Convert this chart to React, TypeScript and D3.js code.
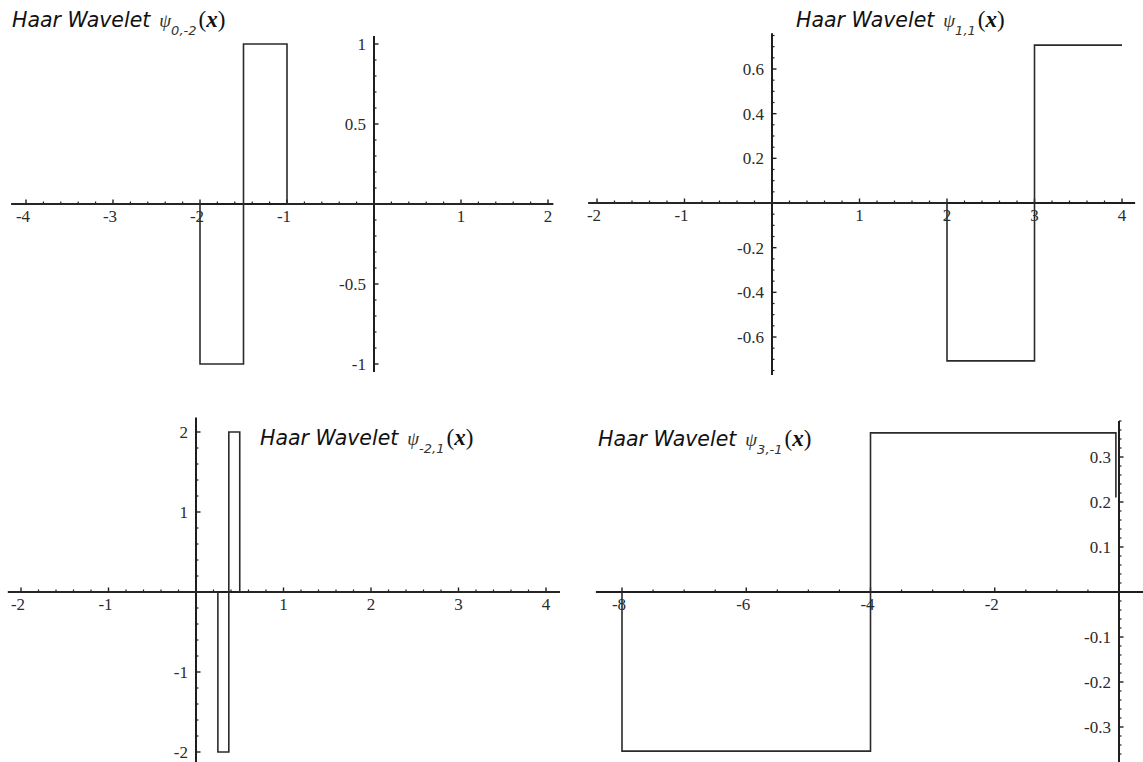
import React from "react";
import * as d3 from "d3";

// Haar wavelet step functions, as polyline vertices [x, ψ(x)]
const psi0m2: [number, number][] = [[-4.17, 0], [-2, 0], [-2, -1], [-1.5, -1], [-1.5, 1], [-1, 1], [-1, 0], [2.06, 0]];
const psi11: [number, number][] = [[-2.1, 0], [2, 0], [2, -0.7071], [3, -0.7071], [3, 0.7071], [4, 0.7071]];
const psim21: [number, number][] = [[-2.15, 0], [0.25, 0], [0.25, -2], [0.375, -2], [0.375, 2], [0.5, 2], [0.5, 0], [4.16, 0]];
const psi3m1: [number, number][] = [[-8, 0], [-8, -0.3536], [-4, -0.3536], [-4, 0.3536], [-0.05, 0.3536], [-0.05, 0.21]];

// Labelled tick values
const xTicks1 = [-4, -3, -2, -1, 1, 2];
const yTicks1 = [1, 0.5, -0.5, -1];
const xTicks2 = [-2, -1, 1, 2, 3, 4];
const yTicks2 = [0.6, 0.4, 0.2, -0.2, -0.4, -0.6];
const xTicks3 = [-2, -1, 1, 2, 3, 4];
const yTicks3 = [2, 1, -1, -2];
const xTicks4 = [-8, -6, -4, -2];
const yTicks4 = [0.3, 0.2, 0.1, -0.1, -0.2, -0.3];

// Subscripts of ψ in the titles
const subs = ["0,-2", "1,1", "-2,1", "3,-1"];

type Panel = {
  data: [number, number][];
  xTicks: number[];
  yTicks: number[];
  sub: string;
  xDomain: [number, number];
  xRange: [number, number];
  yDomain: [number, number];
  yRange: [number, number];
  xExt: [number, number];
  yExt: [number, number];
  xMinor: number;
  yMinor: number;
  title: [number, number];
};

const panels: Panel[] = [
  {
    data: psi0m2, xTicks: xTicks1, yTicks: yTicks1, sub: subs[0],
    xDomain: [-4, 2], xRange: [26, 548], yDomain: [-1, 1], yRange: [364, 44],
    xExt: [-4.17, 2.06], yExt: [-1.05, 1.05], xMinor: 0.2, yMinor: 0.1, title: [12, 27],
  },
  {
    data: psi11, xTicks: xTicks2, yTicks: yTicks2, sub: subs[1],
    xDomain: [-2, 4], xRange: [597, 1122], yDomain: [-0.6, 0.6], yRange: [337, 69],
    xExt: [-2.1, 4.15], yExt: [-0.77, 0.76], xMinor: 0.2, yMinor: 0.05, title: [796, 27],
  },
  {
    data: psim21, xTicks: xTicks3, yTicks: yTicks3, sub: subs[2],
    xDomain: [-2, 4], xRange: [21, 546], yDomain: [-2, 2], yRange: [752, 432],
    xExt: [-2.15, 4.16], yExt: [-2.15, 2.18], xMinor: 0.2, yMinor: 0.2, title: [260, 445],
  },
  {
    data: psi3m1, xTicks: xTicks4, yTicks: yTicks4, sub: subs[3],
    xDomain: [-8, 0], xRange: [622, 1119], yDomain: [-0.3, 0.3], yRange: [727, 457],
    xExt: [-8.42, 0.4], yExt: [-0.38, 0.38], xMinor: 0.5, yMinor: 0.02, title: [598, 446],
  },
];

const AXIS = "#1e1e1e";
const LABEL = "#2b2b2b";
const SERIF = "'Liberation Serif', 'Times New Roman', 'DejaVu Serif', serif";
const SANS = "'DejaVu Sans', Verdana, sans-serif";

function stepsWithin(ext: [number, number], step: number): number[] {
  const i0 = Math.ceil(ext[0] / step - 1e-9);
  const i1 = Math.floor(ext[1] / step + 1e-9);
  return d3.range(i0, i1 + 1).map((i) => +(i * step).toFixed(6));
}

function isMajor(v: number, ticks: number[]) {
  return ticks.some((t) => Math.abs(t - v) < 1e-6);
}

function PanelView({ p }: { p: Panel }) {
  const x = d3.scaleLinear().domain(p.xDomain).range(p.xRange);
  const y = d3.scaleLinear().domain(p.yDomain).range(p.yRange);
  const x0 = x(0);
  const y0 = y(0);
  const line = d3.line<[number, number]>().x((d) => x(d[0])).y((d) => y(d[1]));
  const xs = stepsWithin(p.xExt, p.xMinor).filter((v) => Math.abs(v) > 1e-9);
  const ys = stepsWithin(p.yExt, p.yMinor).filter((v) => Math.abs(v) > 1e-9);

  return (
    <g>
      {/* x axis */}
      <line x1={x(p.xExt[0])} x2={x(p.xExt[1])} y1={y0} y2={y0} stroke={AXIS} strokeWidth={2} />
      {xs.map((v) => {
        const big = isMajor(v, p.xTicks);
        return (
          <line key={"xt" + v} x1={x(v)} x2={x(v)} y1={y0} y2={y0 - (big ? 4.5 : 2.5)} stroke={AXIS} strokeWidth={big ? 1.4 : 1.2} />
        );
      })}
      {p.xTicks.map((v) => (
        <text key={"xl" + v} x={x(v)} dx={v < 0 ? -3 : 0} y={y0 + 18} textAnchor="middle"
          fontFamily={SERIF} fontSize={17} fill={LABEL}>
          {String(v)}
        </text>
      ))}
      {/* y axis */}
      <line x1={x0} x2={x0} y1={y(p.yExt[0])} y2={y(p.yExt[1])} stroke={AXIS} strokeWidth={2} />
      {ys.map((v) => {
        const big = isMajor(v, p.yTicks);
        return (
          <line key={"yt" + v} x1={x0} x2={x0 + (big ? 4.5 : 2.5)} y1={y(v)} y2={y(v)} stroke={AXIS} strokeWidth={big ? 1.4 : 1.2} />
        );
      })}
      {p.yTicks.map((v) => (
        <text key={"yl" + v} x={x0 - 8} y={y(v)} dy="0.35em" textAnchor="end"
          fontFamily={SERIF} fontSize={17} fill={LABEL}>
          {String(v)}
        </text>
      ))}
      {/* wavelet */}
      <path d={line(p.data) ?? ""} fill="none" stroke="#2a2a2a" strokeWidth={1.6} />
      {/* title */}
      <text x={p.title[0]} y={p.title[1]} fill="#111">
        <tspan fontFamily={SANS} fontStyle="italic" fontSize={20.5}>Haar Wavelet</tspan>
        <tspan dx={9} fontFamily={SERIF} fontStyle="italic" fontSize={19} fill="#333">ψ</tspan>
        <tspan dy={8} fontFamily={SANS} fontStyle="italic" fontSize={13} fill="#333">{p.sub}</tspan>
        <tspan dy={-8} dx={2} fontFamily={SERIF} fontSize={23}>(</tspan>
        <tspan fontFamily={SERIF} fontStyle="italic" fontWeight="bold" fontSize={23}>x</tspan>
        <tspan fontFamily={SERIF} fontSize={23}>)</tspan>
      </text>
    </g>
  );
}

export default function App() {
  return (
    <svg width={1143} height={762} style={{ position: "absolute", left: 0, top: 0, background: "#fff" }}>
      <rect width={1143} height={762} fill="#fff" />
      {panels.map((p, i) => (
        <PanelView key={i} p={p} />
      ))}
    </svg>
  );
}
